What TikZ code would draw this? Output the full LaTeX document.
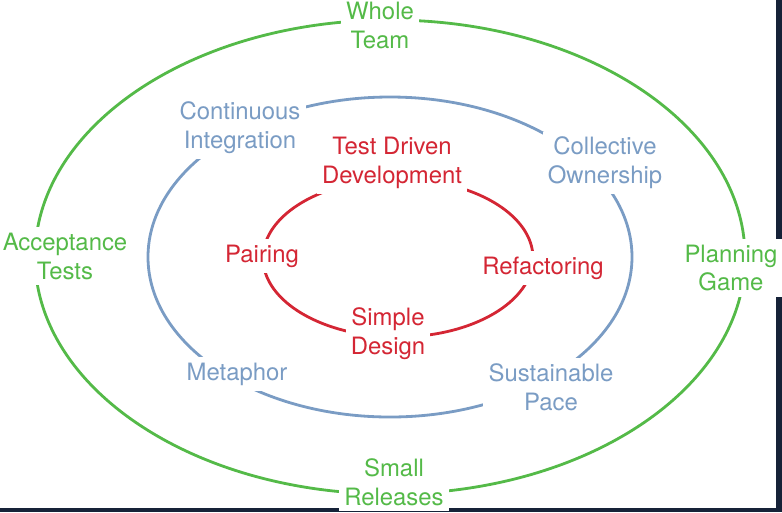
\documentclass[tikz,border=0pt]{standalone}
\usepackage{fontspec}
\setmainfont{TeX Gyre Heros}
\definecolor{xpgreen}{RGB}{84,186,72}
\definecolor{xpblue}{RGB}{122,156,196}
\definecolor{xpred}{RGB}{212,38,52}
\definecolor{edge}{RGB}{22,34,56}
\tikzset{
  lbl/.style={fill=white,align=center,inner sep=3pt,font=\fontsize{13.6}{16.5}\selectfont},
  ring/.style={line width=1.6pt}
}
\begin{document}
\begin{tikzpicture}[x=0.02cm,y=-0.02cm]
      \useasboundingbox (0,0) rectangle (782,512);
      \fill[edge] (776,0) rectangle (782,512);
      \fill[edge] (0,508) rectangle (782,512);
      % the three rings
      \draw[ring,xpgreen] (390,257) ellipse [x radius=355,y radius=237];
      \draw[ring,xpblue] (390,257) ellipse [x radius=242,y radius=160];
      \draw[ring,xpred] (398,258) ellipse [x radius=135,y radius=79];
      % outer ring
      \node[lbl,text=xpgreen] (team) at (380,25) {Whole\\Team};
      \node[lbl,text=xpgreen] (accept) at (65,256) {Acceptance\\Tests};
      \node[lbl,text=xpgreen] (plan) at (731,268) {Planning\\Game};
      \node[lbl,text=xpgreen] (small) at (394,482) {Small\\Releases};
      % middle ring
      \node[lbl,text=xpblue] (ci) at (240,128) {Continuous\\Integration};
      \node[lbl,text=xpblue] (owner) at (605,163) {Collective\\Ownership};
      \node[lbl,text=xpblue] (meta) at (237,374) {Metaphor};
      \node[lbl,text=xpblue] (pace) at (551,387) {Sustainable\\Pace};
      % inner ring
      \node[lbl,text=xpred] (tdd) at (392,163) {Test Driven\\Development};
      \node[lbl,text=xpred] (pair) at (262,256) {Pairing};
      \node[lbl,text=xpred] (refac) at (543,268) {Refactoring};
      \node[lbl,text=xpred] (simple) at (388,334) {Simple\\Design};
  \end{tikzpicture}
\end{document}
